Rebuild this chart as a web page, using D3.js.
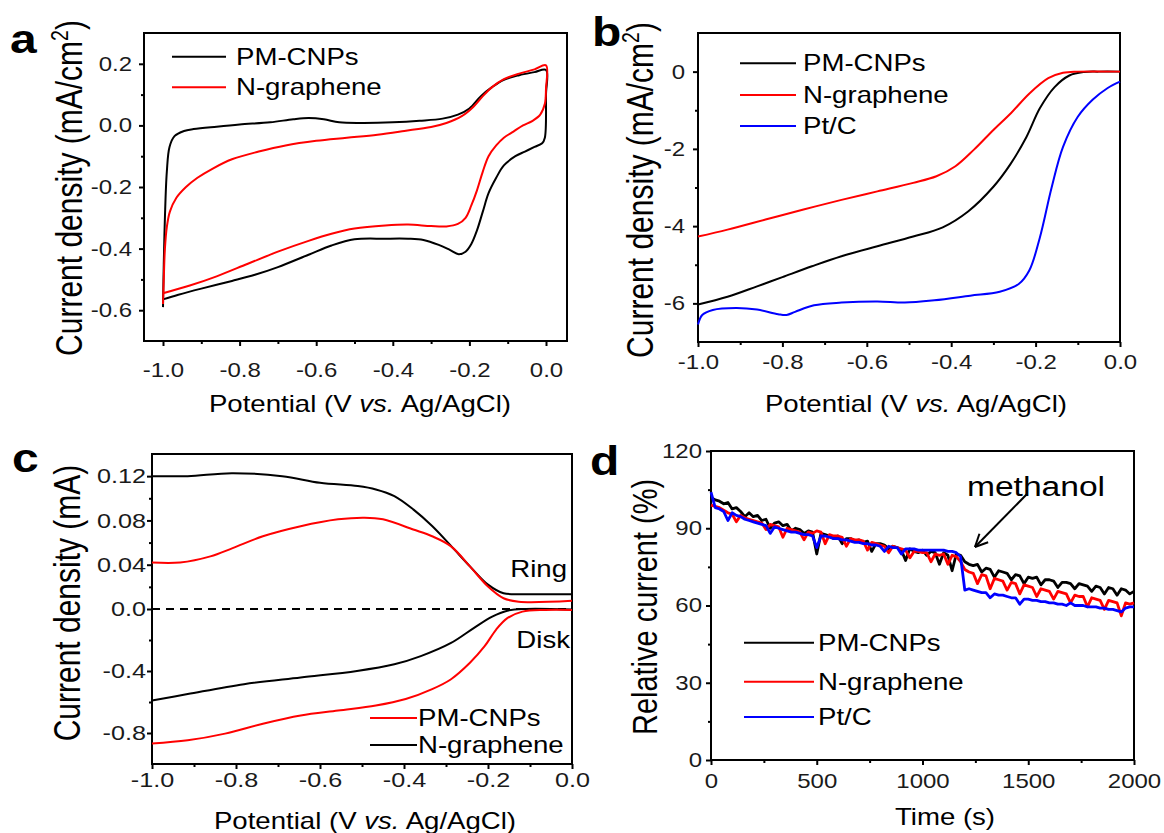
<!DOCTYPE html>
<html>
<head>
<meta charset="utf-8">
<script src="https://cdnjs.cloudflare.com/ajax/libs/d3/7.8.5/d3.min.js"></script>
<style>
  body { margin: 0; background: #fff; }
  svg { font-family: "Liberation Sans", Arial, sans-serif; }
</style>
</head>
<body>
<svg id="fig" width="1164" height="833"></svg>
<script>
// ---- panel a: CV loops [potential, current density]
var cvPM = [[-1.0,-0.59],[-0.998,-0.45],[-0.995,-0.3],[-0.99,-0.15],[-0.983,-0.07],[-0.97,-0.035],[-0.945,-0.018],[-0.92,-0.012],[-0.86,-0.004],[-0.8,0.003],[-0.72,0.01],[-0.66,0.02],[-0.62,0.024],[-0.58,0.02],[-0.54,0.01],[-0.48,0.008],[-0.4,0.01],[-0.33,0.015],[-0.27,0.022],[-0.23,0.035],[-0.2,0.055],[-0.17,0.095],[-0.14,0.125],[-0.11,0.148],[-0.07,0.163],[-0.03,0.173],[0.0,0.18],[0.0,0.1],[-0.003,-0.04],[-0.01,-0.058],[-0.03,-0.07],[-0.055,-0.085],[-0.08,-0.1],[-0.11,-0.13],[-0.13,-0.17],[-0.15,-0.22],[-0.165,-0.28],[-0.18,-0.34],[-0.195,-0.385],[-0.21,-0.41],[-0.228,-0.418],[-0.25,-0.405],[-0.28,-0.388],[-0.32,-0.372],[-0.36,-0.368],[-0.42,-0.368],[-0.5,-0.37],[-0.56,-0.39],[-0.62,-0.42],[-0.7,-0.46],[-0.76,-0.485],[-0.82,-0.505],[-0.9,-0.53],[-0.96,-0.55],[-1.0,-0.565]];
var cvNG = [[-1.0,-0.58],[-0.998,-0.5],[-0.995,-0.4],[-0.99,-0.33],[-0.982,-0.28],[-0.965,-0.235],[-0.94,-0.2],[-0.91,-0.17],[-0.87,-0.14],[-0.82,-0.11],[-0.75,-0.085],[-0.68,-0.065],[-0.6,-0.05],[-0.52,-0.04],[-0.44,-0.03],[-0.37,-0.018],[-0.3,-0.005],[-0.26,0.008],[-0.22,0.03],[-0.19,0.06],[-0.165,0.095],[-0.14,0.125],[-0.11,0.15],[-0.07,0.168],[-0.03,0.182],[0.0,0.195],[0.0,0.12],[-0.003,0.07],[-0.015,0.035],[-0.035,0.015],[-0.06,0.0],[-0.085,-0.02],[-0.11,-0.04],[-0.13,-0.065],[-0.15,-0.1],[-0.165,-0.15],[-0.18,-0.21],[-0.195,-0.26],[-0.21,-0.3],[-0.23,-0.32],[-0.26,-0.328],[-0.3,-0.327],[-0.36,-0.322],[-0.42,-0.325],[-0.5,-0.335],[-0.56,-0.352],[-0.62,-0.375],[-0.7,-0.41],[-0.78,-0.45],[-0.86,-0.49],[-0.93,-0.52],[-1.0,-0.545]];

// ---- panel b: LSV
var lsvPM = [[-1.0,-6.03],[-0.93,-5.83],[-0.86,-5.56],[-0.8,-5.32],[-0.73,-5.04],[-0.66,-4.78],[-0.575,-4.52],[-0.49,-4.27],[-0.42,-4.03],[-0.36,-3.62],[-0.3,-2.98],[-0.26,-2.4],[-0.222,-1.7],[-0.19,-0.95],[-0.155,-0.4],[-0.12,-0.1],[-0.085,-0.01],[-0.05,0],[0,0]];
var lsvNG = [[-1.0,-4.27],[-0.93,-4.09],[-0.84,-3.83],[-0.75,-3.57],[-0.66,-3.32],[-0.575,-3.1],[-0.49,-2.88],[-0.435,-2.71],[-0.39,-2.45],[-0.346,-2.02],[-0.3,-1.51],[-0.258,-1.07],[-0.214,-0.56],[-0.17,-0.17],[-0.135,-0.03],[-0.1,0],[0,0]];
var lsvPt = [[-1.0,-6.55],[-0.99,-6.3],[-0.965,-6.17],[-0.91,-6.12],[-0.86,-6.16],[-0.81,-6.28],[-0.79,-6.3],[-0.77,-6.22],[-0.725,-6.05],[-0.66,-5.98],[-0.575,-5.95],[-0.51,-5.98],[-0.44,-5.92],[-0.355,-5.8],[-0.285,-5.7],[-0.24,-5.5],[-0.215,-5.15],[-0.19,-4.3],[-0.162,-3.0],[-0.135,-1.95],[-0.1,-1.17],[-0.065,-0.73],[-0.03,-0.43],[0,-0.26]];

// ---- panel c: RRDE ring / disk
var ringNG = [[-1.0,0.12],[-0.915,0.12],[-0.81,0.1227],[-0.69,0.12],[-0.6,0.114],[-0.51,0.111],[-0.467,0.108],[-0.423,0.102],[-0.378,0.09],[-0.333,0.075],[-0.288,0.057],[-0.243,0.0385],[-0.2,0.022],[-0.163,0.0143],[-0.11,0.0134],[0,0.0134]];
var ringPM = [[-1.0,0.042],[-0.933,0.042],[-0.861,0.0475],[-0.808,0.055],[-0.736,0.0657],[-0.646,0.0748],[-0.557,0.081],[-0.494,0.0825],[-0.45,0.081],[-0.378,0.0718],[-0.333,0.0657],[-0.288,0.0566],[-0.243,0.0385],[-0.2,0.0203],[-0.163,0.0097],[-0.127,0.0066],[0,0.0075]];
var diskNG = [[-1.0,-0.591],[-0.915,-0.549],[-0.781,-0.485],[-0.646,-0.442],[-0.512,-0.4],[-0.423,-0.357],[-0.36,-0.304],[-0.288,-0.219],[-0.234,-0.123],[-0.19,-0.049],[-0.154,-0.011],[-0.109,0],[0,-0.004]];
var diskPM = [[-1.0,-0.868],[-0.915,-0.847],[-0.826,-0.804],[-0.736,-0.74],[-0.646,-0.687],[-0.557,-0.655],[-0.467,-0.623],[-0.396,-0.581],[-0.333,-0.517],[-0.288,-0.453],[-0.243,-0.347],[-0.208,-0.24],[-0.181,-0.134],[-0.154,-0.059],[-0.118,-0.017],[-0.064,-0.006],[0,-0.006]];

// ---- panel d: relative current (%), sampled every 20 s
var timeS = d3.range(0, 2001, 20);
var relPM = [102,101,100.5,99.5,100,97.5,98,96.5,94.5,96,
  94.5,95,93,93.5,90,92,92.5,91,91.5,89,
  90,89.5,88,89,88.5,80,88,87.5,87,86,
  87,84,86,86,85,85.5,84.5,85,81,84,
  84,83.5,82,83,82.5,81.5,77.5,82,81,80.5,
  81.5,79.5,81,80.5,76,80.5,79.5,73.5,80,79.5,
  77,76,75.5,76,73,74.5,74,71,73.5,73,
  72.5,70,72,71.5,68.5,71,70.5,71,68,70,
  70,69.5,67,69,69,68.5,66.5,68.5,68,67.5,
  65.5,67.5,67,64.5,67,66.5,64,66.5,66,64.5,
  65.5];
var relNG = [99,98.5,98,97,96,95.5,92.5,95,94,93.5,
  93,92.5,92,89.5,91.5,91,90.5,86.5,90,89.5,
  89,88.5,85.5,88.5,88,89,88.5,84,87.5,87,
  87,86.5,83,86,85.5,85.5,85,81.5,84.5,84,
  83.5,83,80.5,83,82.5,82,81.5,78.5,81,81,
  80.5,80.5,77,80,79.5,80,76,79.5,79,77,
  74,73,72.5,68.5,72,71.5,66.5,70.5,70,69.5,
  66,69,68.5,64.5,68,67.5,67,63.5,66.5,66,
  65.5,62.5,65.5,65,64.5,61,64,63.5,63.5,59.5,
  63,62.5,62,58.5,62,61.5,61,56,61,60.5,
  61];
var relPt = [104,98,97.5,96.5,93,96,95,94.5,93.5,93,
  92.5,92,91.5,91,88,90.5,90,89.5,89,88.5,
  88.5,88,87.5,87.5,87,82.5,87,87,86.5,86,
  86,85.5,85.5,85,84.5,84.5,84,84,83.5,83.5,
  83,81,83,82.5,82.5,80,82,82,82,81.5,
  81.5,81.5,81.5,81.5,81.5,81.5,81,81,80.5,79,
  66,66.5,66,65.5,65,65,63,64.5,64,64,
  63.5,63,63,60.5,62.5,62.5,62,62,61.5,61.5,
  61,61,60.5,60.5,60,61,60,60,60,59.5,
  59.5,59.5,59,59,58.5,58.5,58,57.5,59,59.5,
  59.5];

var RED = "#ff0000", BLUE = "#0000ff", BLACK = "#000000";
var SX = 1.2;  // the figure's lettering is drawn a bit wide
var FONT = "Liberation Sans, Arial, sans-serif";

var svg = d3.select("#fig");

function addText(x, y, str, size, anchor, weight) {
  return svg.append("text")
    .attr("transform", "translate(" + x + "," + y + ") scale(" + SX + ",1)")
    .attr("text-anchor", anchor || "start")
    .style("font-size", size + "px")
    .style("font-weight", weight || "normal")
    .text(str);
}

function xTitle(x, y) {
  var t = addText(x, y, "", 23, "middle");
  t.append("tspan").text("Potential (V ");
  t.append("tspan").style("font-style", "italic").text("vs.");
  t.append("tspan").text(" Ag/AgCl)");
}

function yTitle(x, y, main, sup, size) {
  var t = svg.append("text")
    .attr("transform", "translate(" + x + "," + y + ") rotate(-90) scale(1," + SX + ")")
    .attr("text-anchor", "middle")
    .style("font-size", size + "px");
  t.append("tspan").text(main);
  if (sup) {
    t.append("tspan").attr("dy", -size * 0.38).style("font-size", (size * 0.65) + "px").text(sup);
    t.append("tspan").attr("dy", size * 0.38).text(")");
  }
}

function drawAxes(p) {
  var xb = svg.append("g")
    .attr("transform", "translate(0," + p.box[3] + ")")
    .call(d3.axisBottom(p.x).tickValues(p.xTicks).tickSize(5).tickSizeOuter(0).tickFormat(p.xFmt));
  xb.select(".domain").remove();
  xb.attr("font-size", p.fs).attr("font-family", FONT);
  xb.selectAll("line").attr("stroke-width", 2);
  xb.selectAll("text").attr("y", p.xPad).attr("dy", null).attr("fill", "#1a1a1a")
    .attr("transform", "scale(" + SX + ",1)");

  var xm = svg.append("g")
    .attr("transform", "translate(0," + p.box[3] + ")")
    .call(d3.axisBottom(p.x).tickValues(p.xMinor).tickSize(3).tickSizeOuter(0).tickFormat(""));
  xm.select(".domain").remove();
  xm.selectAll("line").attr("stroke-width", 2);

  var yl = svg.append("g")
    .attr("transform", "translate(" + p.box[0] + ",0)")
    .call(d3.axisLeft(p.y).tickValues(p.yTicks).tickSize(5).tickSizeOuter(0).tickFormat(p.yFmt));
  yl.select(".domain").remove();
  yl.attr("font-size", p.fs).attr("font-family", FONT);
  yl.selectAll("line").attr("stroke-width", 2);
  yl.selectAll("text").attr("x", -p.yPad / SX).attr("fill", "#1a1a1a")
    .attr("transform", "scale(" + SX + ",1)");

  var ym = svg.append("g")
    .attr("transform", "translate(" + p.box[0] + ",0)")
    .call(d3.axisLeft(p.y).tickValues(p.yMinor).tickSize(3).tickSizeOuter(0).tickFormat(""));
  ym.select(".domain").remove();
  ym.selectAll("line").attr("stroke-width", 2);

  svg.append("rect")
    .attr("x", p.box[0]).attr("y", p.box[1])
    .attr("width", p.box[2] - p.box[0]).attr("height", p.box[3] - p.box[1])
    .attr("fill", "none").attr("stroke", "#000").attr("stroke-width", 2);
}

function curve(x, y, data, color, width, smooth) {
  var line = d3.line()
    .x(function(d) { return x(d[0]); })
    .y(function(d) { return y(d[1]); });
  if (smooth) line.curve(d3.curveCatmullRom.alpha(0.5));
  svg.append("path")
    .datum(data)
    .attr("d", line)
    .attr("fill", "none")
    .attr("stroke", color)
    .attr("stroke-width", width)
    .attr("stroke-linejoin", "round");
}

function legend(items, x1, x2, tx) {
  items.forEach(function(it) {
    svg.append("line")
      .attr("x1", x1).attr("x2", x2).attr("y1", it.y).attr("y2", it.y)
      .attr("stroke", it.color).attr("stroke-width", 2);
    addText(tx, it.y + 8, it.name, 23, "start");
  });
}

var f1 = function(d) { return d.toFixed(1); };
var f2 = function(d) { return d === 0 ? "0.0" : (Math.abs(d) < 0.2 ? d.toFixed(2) : d.toFixed(1)); };
var f0 = function(d) { return String(d); };
var potTicks = [-1.0, -0.8, -0.6, -0.4, -0.2, 0.0];
var potMinor = [-0.9, -0.7, -0.5, -0.3, -0.1];

// ---------------- panel a
function panelA() {
  var x = d3.scaleLinear().domain([-1.0, 0.0]).range([163, 546]);
  var y = d3.scaleLinear().domain([-0.7, 0.3]).range([341, 33]);
  drawAxes({ box: [144, 33, 567, 341], x: x, y: y, fs: 20,
    xTicks: potTicks, xMinor: potMinor, xFmt: f1, xPad: 36,
    yTicks: [-0.6, -0.4, -0.2, 0.0, 0.2], yMinor: [-0.5, -0.3, -0.1, 0.1], yFmt: f1, yPad: 12 });
  curve(x, y, cvPM, BLACK, 2, true);
  curve(x, y, cvNG, RED, 2, true);
  legend([{ y: 56.7, color: BLACK, name: "PM-CNPs" }, { y: 87.3, color: RED, name: "N-graphene" }], 172, 226, 236);
  xTitle(360, 412);
  yTitle(82, 188, "Current  density (mA/cm", "2", 30);
  addText(10, 53, "a", 40, "start", "bold");
}

// ---------------- panel b
function panelB() {
  var x = d3.scaleLinear().domain([-1.0, 0.0]).range([698, 1120]);
  var y = d3.scaleLinear().domain([-7, 1]).range([342, 33]);
  drawAxes({ box: [698, 33, 1120, 342], x: x, y: y, fs: 20,
    xTicks: potTicks, xMinor: potMinor, xFmt: f1, xPad: 27,
    yTicks: [-6, -4, -2, 0], yMinor: [-5, -3, -1], yFmt: f0, yPad: 13 });
  curve(x, y, lsvPM, BLACK, 2, true);
  curve(x, y, lsvNG, RED, 2, true);
  curve(x, y, lsvPt, BLUE, 2, true);
  legend([{ y: 63.3, color: BLACK, name: "PM-CNPs" }, { y: 95, color: RED, name: "N-graphene" },
          { y: 126, color: BLUE, name: "Pt/C" }], 740, 796, 803);
  xTitle(916, 412);
  yTitle(653, 190, "Current  density (mA/cm", "2", 30);
  addText(592, 46, "b", 40, "start", "bold");
}

// ---------------- panel c (split y axis: ring above 0, disk below)
function panelC() {
  var x = d3.scaleLinear().domain([-1.0, 0.0]).range([152, 572]);
  var y = d3.scaleLinear().domain([-1.0, 0, 0.14]).range([764, 609, 454]);
  drawAxes({ box: [152, 454, 572, 764], x: x, y: y, fs: 21,
    xTicks: potTicks, xMinor: potMinor, xFmt: f1, xPad: 23,
    yTicks: [-0.8, -0.4, 0.0, 0.04, 0.08, 0.12], yMinor: [-0.6, -0.2, 0.02, 0.06, 0.10], yFmt: f2, yPad: 6 });
  svg.append("line")
    .attr("x1", x(-1.0)).attr("x2", x(0)).attr("y1", y(0)).attr("y2", y(0))
    .attr("stroke", "#000").attr("stroke-width", 2).attr("stroke-dasharray", "8,6");
  curve(x, y, ringNG, BLACK, 2, true);
  curve(x, y, ringPM, RED, 2, true);
  curve(x, y, diskNG, BLACK, 2, true);
  curve(x, y, diskPM, RED, 2, true);
  addText(567, 577, "Ring", 23, "end");
  addText(570, 648, "Disk", 23, "end");
  legend([{ y: 718, color: RED, name: "PM-CNPs" }, { y: 745, color: BLACK, name: "N-graphene" }], 370, 417, 418);
  xTitle(365, 829);
  yTitle(80, 603, "Current  density (mA)", null, 30);
  addText(12, 472, "c", 40, "start", "bold");
}

// ---------------- panel d
function panelD() {
  var x = d3.scaleLinear().domain([0, 2000]).range([711, 1134]);
  var y = d3.scaleLinear().domain([0, 120]).range([760, 451]);
  drawAxes({ box: [711, 451, 1134, 760], x: x, y: y, fs: 20,
    xTicks: [0, 500, 1000, 1500, 2000], xMinor: [250, 750, 1250, 1750], xFmt: f0, xPad: 28,
    yTicks: [0, 30, 60, 90, 120], yMinor: [15, 45, 75, 105], yFmt: f0, yPad: 9 });
  var series = [[relPM, BLACK], [relNG, RED], [relPt, BLUE]];
  series.forEach(function(s) {
    var pts = timeS.map(function(t, i) { return [t, s[0][i]]; });
    curve(x, y, pts, s[1], 2.8, false);
  });
  legend([{ y: 642.7, color: BLACK, name: "PM-CNPs" }, { y: 681.7, color: RED, name: "N-graphene" },
          { y: 717, color: BLUE, name: "Pt/C" }], 744, 814, 818);

  // methanol annotation
  addText(x(1210), y(102.5), "methanol", 28, "start");
  var tail = [x(1494), y(103.3)], tip = [x(1248), y(82.7)];
  svg.append("line").attr("x1", tail[0]).attr("y1", tail[1]).attr("x2", tip[0]).attr("y2", tip[1])
    .attr("stroke", "#000").attr("stroke-width", 2);
  var ang = Math.atan2(tail[1] - tip[1], tail[0] - tip[0]);
  [-0.45, 0.45].forEach(function(da) {
    svg.append("line")
      .attr("x1", tip[0]).attr("y1", tip[1])
      .attr("x2", tip[0] + 14 * Math.cos(ang + da)).attr("y2", tip[1] + 14 * Math.sin(ang + da))
      .attr("stroke", "#000").attr("stroke-width", 2);
  });

  addText(945, 825, "Time  (s)", 23, "middle");
  yTitle(657, 607, "Relative current (%)", null, 29);
  addText(590, 475, "d", 40, "start", "bold");
}

panelA();
panelB();
panelC();
panelD();
</script>
</body>
</html>
